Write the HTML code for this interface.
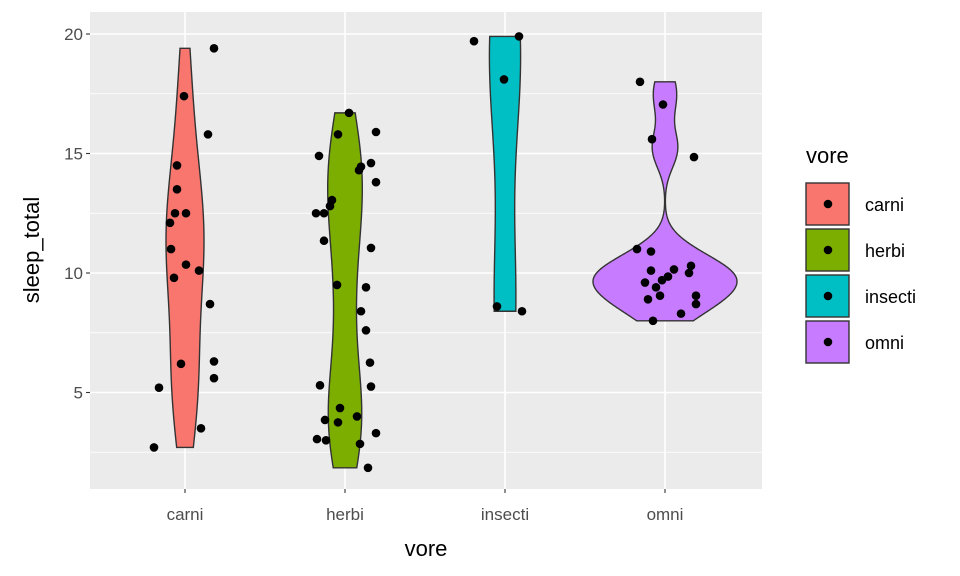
<!DOCTYPE html>
<html><head><meta charset="utf-8"><style>
html,body{margin:0;padding:0;background:#fff;}
svg{display:block;font-family:"Liberation Sans",Arial,sans-serif;}
</style></head><body>
<svg id="chart" width="960" height="576" viewBox="0 0 960 576"></svg>
<script>
const categories = ["carni","herbi","insecti","omni"];
const fills = ["#F8766D","#7CAE00","#00BFC4","#C77CFF"];
const carniVals = [19.4,17.4,15.8,14.5,13.5,12.5,12.5,12.1,11.0,10.35,10.1,9.8,8.7,6.2,6.3,5.6,5.2,3.5,2.7];
const carniJit = [29,-1,23,-8,-8,-10,1,-15,-14,1,14,-11,25,-4,29,29,-26,16,-31];
const herbiVals = [16.7,15.8,15.9,14.9,14.6,14.45,14.3,13.8,13.05,12.8,12.5,12.5,11.35,11.05,9.5,9.4,8.4,7.6,6.25,5.3,5.25,4.35,3.85,3.75,4.0,3.3,3.05,3.0,2.85,1.85];
const herbiJit = [4,-7,31,-26,26,16,14,31,-13,-15,-29,-21,-21,26,-8,21,16,21,25,-25,26,-5,-20,-7,12,31,-28,-19,15,23];
const insectiVals = [19.7,19.9,18.1,8.6,8.4];
const insectiJit = [-31,14,-1,-8,17];
const omniVals = [18.0,17.05,15.6,14.85,11.0,10.9,10.1,10.15,10.3,10.0,9.85,9.7,9.6,9.4,9.05,8.9,9.05,8.7,8.3,8.0];
const omniJit = [-25,-2,-13,29,-28,-14,-14,9,26,24,3,-3,-20,-9,-5,-17,31,31,16,-12];
const yTicks = [5,10,15,20];
const yMinor = [2.5,7.5,12.5,17.5];
const series = [carniVals,herbiVals,insectiVals,omniVals];
const jitters = [carniJit,herbiJit,insectiJit,omniJit];

const NS="http://www.w3.org/2000/svg";
const svg=document.getElementById('chart');
const P={l:90,r:762,t:12,b:489};
function yS(v){return 273-(v-10)*23.9;}
function xS(i){return 185+i*160;}
function mk(tag,attrs,parent){const e=document.createElementNS(NS,tag);for(const k in attrs)e.setAttribute(k,attrs[k]);(parent||svg).appendChild(e);return e;}

let bg=mk('rect',{x:P.l,y:P.t,width:P.r-P.l,height:P.b-P.t,fill:'#EBEBEB'});


yMinor.forEach(v=>{let l=mk('line',{x1:P.l,x2:P.r,y1:yS(v),y2:yS(v),stroke:'#fff','stroke-width':0.8});

});
yTicks.forEach(v=>{let l=mk('line',{x1:P.l,x2:P.r,y1:yS(v),y2:yS(v),stroke:'#fff','stroke-width':1.6});


let t=mk('line',{x1:P.l-4,x2:P.l,y1:yS(v),y2:yS(v),stroke:'#333','stroke-width':1.1});


let tx=mk('text',{x:P.l-7,y:yS(v)+6,'text-anchor':'end','font-size':17,fill:'#4D4D4D'});tx.textContent=v;

});
categories.forEach((c,i)=>{let l=mk('line',{x1:xS(i),x2:xS(i),y1:P.t,y2:P.b,stroke:'#fff','stroke-width':1.6});


let t=mk('line',{x1:xS(i),x2:xS(i),y1:P.b,y2:P.b+4,stroke:'#333','stroke-width':1.1});


let tx=mk('text',{x:xS(i),y:P.b+31,'text-anchor':'middle','font-size':17,fill:'#4D4D4D'});tx.textContent=c;

});

function quant(s,p){const h=(s.length-1)*p,lo=Math.floor(h);return s[lo]+(h-lo)*((s[lo+1]??s[lo])-s[lo]);}
function kde(vals){const n=vals.length,s=[...vals].sort((a,b)=>a-b);const m=s.reduce((a,b)=>a+b,0)/n;
const sd=Math.sqrt(s.reduce((a,b)=>a+(b-m)**2,0)/(n-1));const iqr=quant(s,0.75)-quant(s,0.25);
let lo=Math.min(sd,iqr/1.34);if(!(lo>0))lo=sd;const bw=0.9*lo*Math.pow(n,-0.2);
const pts=[];const N=200;for(let k=0;k<=N;k++){const y=s[0]+(s[n-1]-s[0])*k/N;let d=0;
for(const v of s)d+=Math.exp(-0.5*((y-v)/bw)**2);d/=n*bw*Math.sqrt(2*Math.PI);pts.push([y,d]);}return pts;}
const dens=series.map(kde);
const maxD=Math.max(...dens.map(a=>Math.max(...a.map(p=>p[1]))));
dens.forEach((pts,i)=>{const cx=xS(i);const r=pts.map(p=>[cx+p[1]/maxD*72,yS(p[0])]);
const l=pts.slice().reverse().map(p=>[cx-p[1]/maxD*72,yS(p[0])]);
const d='M'+r.concat(l).map(p=>p[0].toFixed(2)+','+p[1].toFixed(2)).join('L')+'Z';
let v=mk('path',{d:d,fill:fills[i],stroke:'#333','stroke-width':1.4});

});
series.forEach((vals,i)=>{vals.forEach((v,j)=>{let c=mk('circle',{cx:xS(i)+jitters[i][j],cy:yS(v),r:4.3,fill:'#000'});

});});

let xt=mk('text',{x:426,y:556,'text-anchor':'middle','font-size':22,fill:'#000'});xt.textContent='vore';


let yt=mk('text',{x:0,y:0,'text-anchor':'middle','font-size':22,fill:'#000',transform:'translate(39,250) rotate(-90)'});yt.textContent='sleep_total';



let lt=mk('text',{x:806,y:163,'font-size':22,fill:'#000'});lt.textContent='vore';


categories.forEach((c,i)=>{const y=183+i*46;
let b=mk('rect',{x:806,y:y,width:43,height:42,fill:fills[i],stroke:'#333','stroke-width':1.4});


let d=mk('circle',{cx:828,cy:y+21,r:4.3,fill:'#000'});


let t=mk('text',{x:865,y:y+28,'font-size':18,fill:'#000'});t.textContent=c;

});
</script>
</body></html>
